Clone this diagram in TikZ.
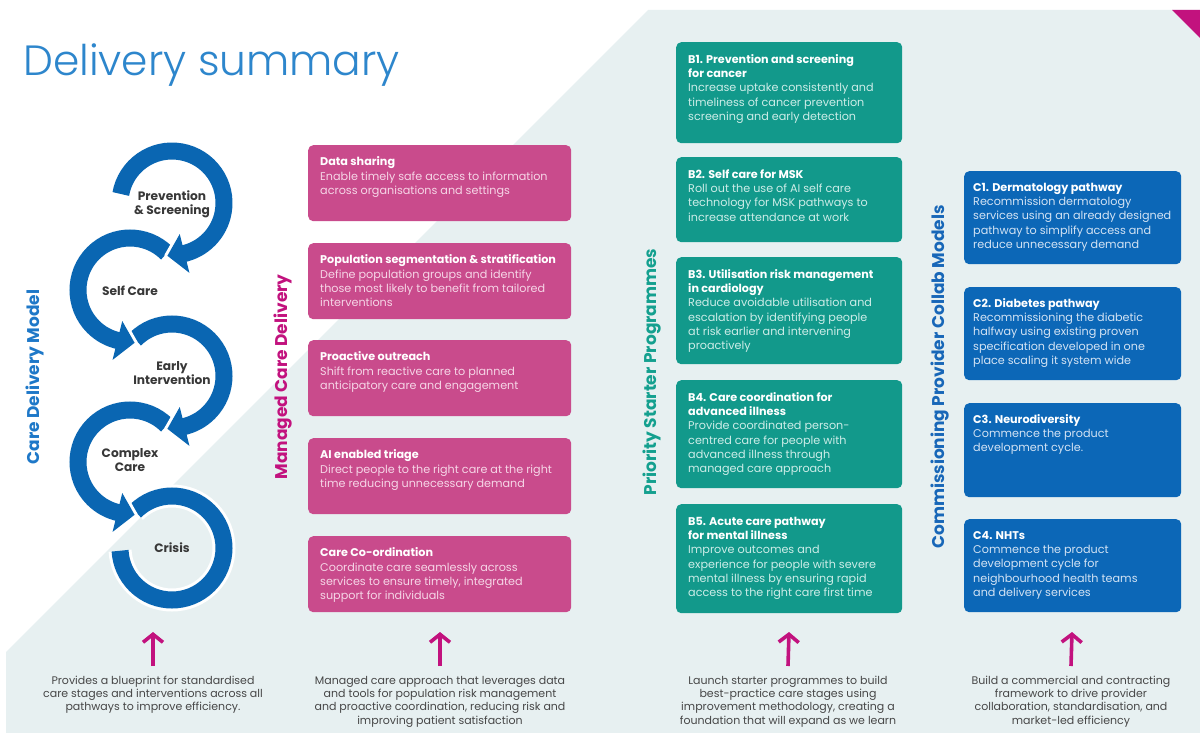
\documentclass[tikz,border=0pt]{standalone}
\usepackage{fontspec}
\setmainfont{Poppins}
\IfFontExistsTF{Poppins Light}{\newfontfamily\titlefont{Poppins Light}}{\newfontfamily\titlefont{Poppins}}
\usetikzlibrary{arrows.meta}

\definecolor{bgpale}{HTML}{E7F0F1}
\definecolor{titleblue}{HTML}{2D86CC}
\definecolor{spiral}{HTML}{0A66B2}
\definecolor{modelblue}{HTML}{1E78C8}
\definecolor{magenta}{HTML}{C2127E}
\definecolor{pinkbox}{HTML}{C94B8C}
\definecolor{pinktxt}{HTML}{F6D6E7}
\definecolor{tealbox}{HTML}{12998B}
\definecolor{tealtxt}{HTML}{CDEDE8}
\definecolor{teallabel}{HTML}{14A08F}
\definecolor{bluebox}{HTML}{0C67B7}
\definecolor{bluetxt}{HTML}{D3E3F4}
\definecolor{bluelabel}{HTML}{1867B8}
\definecolor{darktxt}{HTML}{383838}
\definecolor{greytxt}{HTML}{474747}

\newcommand{\boxhead}[1]{{\bfseries\color{white}#1}}

% one loop of the care-stage spiral:
% #1,#2 centre, #3 start angle, #4 ring end angle, #5 head base angle, #6 head tip angle
\newcommand{\careloop}[6]{%
  \begin{scope}[shift={(#1,#2)}]
    \draw[loophalo] (#3:52) arc[start angle=#3, end angle=#4, radius=52];
    \draw[headhalo] (#5:32) -- (#5:72) -- (#6:53) -- cycle;
    \draw[loopring] (#3:52) arc[start angle=#3, end angle=#4, radius=52];
    \fill[spiral] (#5:32) -- (#5:72) -- (#6:53) -- cycle;
  \end{scope}}

\tikzset{
  loopring/.style={draw=spiral, line width=17pt},
  loophalo/.style={draw=white, line width=23pt},
  headhalo/.style={draw=white, line width=6pt, line join=round},
  stagetext/.style={font=\fontsize{12.2}{14}\selectfont\bfseries, text=darktxt, align=center, inner sep=0},
  sidelabel/.style={rotate=90, font=\fontsize{17}{19}\selectfont\bfseries, inner sep=0},
  cardbox/.style={anchor=north west, rounded corners=5pt, inner sep=0, draw=none},
  pbox/.style={cardbox, fill=pinkbox, minimum width=263pt, minimum height=76pt},
  tbox/.style={cardbox, fill=tealbox, minimum width=226pt},
  cbox/.style={cardbox, fill=bluebox, minimum width=217pt},
  cardtext/.style={anchor=north west, inner sep=0, align=left, font=\fontsize{11.2}{14.3}\selectfont},
  foot/.style={anchor=north, inner sep=0, align=center, text=greytxt, font=\fontsize{11}{13.2}\selectfont},
  uparrow/.style={draw=magenta, line width=3.6pt, -{Straight Barb[length=8pt,width=20pt]}}
}

\begin{document}
\begin{tikzpicture}[x=1pt,y=1pt]
\useasboundingbox (0,0) rectangle (1200,-733);
\fill[white] (0,0) rectangle (1200,-733);

% pale backdrop with diagonal edge and the magenta corner
\fill[bgpale] (648,-10) -- (1200,-10) -- (1200,-733) -- (6,-733) -- (6,-652) -- cycle;
\fill[magenta] (1172,-10) -- (1200,-10) -- (1200,-38) -- cycle;

% title
\node[anchor=base west, inner sep=0, text=titleblue, font=\titlefont\fontsize{42.3}{46}\selectfont] (title) at (23,-76) {Delivery summary};

% care-stage spiral, drawn bottom-up so each upper loop sits on top
\begin{scope}[shift={(172,-548)}]
  \draw[loophalo] (135:52) arc[start angle=135, end angle=-177, radius=52];
  \draw[loopring] (135:52) arc[start angle=135, end angle=-177, radius=52];
\end{scope}
\careloop{130}{-462}{45}{258}{256}{275}
\careloop{172}{-376}{135}{-78}{-76}{-95}
\careloop{130}{-290}{45}{258}{256}{275}
\careloop{172}{-203}{170}{-78}{-76}{-95}

\node[stagetext] (s1) at (172,-204) {Prevention\\\& Screening};
\node[stagetext] (s2) at (130,-291) {Self Care};
\node[stagetext] (s3) at (172,-373) {Early\\Intervention};
\node[stagetext] (s4) at (130,-460) {Complex\\Care};
\node[stagetext] (s5) at (172,-548) {Crisis};

% column headings
\node[sidelabel, text=modelblue] (l1) at (35,-377) {Care Delivery Model};
\node[sidelabel, text=magenta] (l2) at (283,-377) {Managed Care Delivery};
\node[sidelabel, text=teallabel] (l3) at (652,-372) {Priority Starter Programmes};
\node[sidelabel, text=bluelabel] (l4) at (940,-377) {Commissioning Provider Collab Models};

% managed care delivery cards
\node[pbox] (p1) at (308,-145) {};
\node[pbox] (p2) at (308,-243) {};
\node[pbox] (p3) at (308,-340) {};
\node[pbox] (p4) at (308,-438) {};
\node[pbox] (p5) at (308,-536) {};
\node[cardtext, text=pinktxt] (p1t) at ([shift={(12,-10.5)}]p1.north west) {\strut\boxhead{Data sharing}\\Enable timely safe access to information\\across organisations and settings};
\node[cardtext, text=pinktxt] (p2t) at ([shift={(12,-10.5)}]p2.north west) {\strut\boxhead{Population segmentation \& stratification}\\Define population groups and identify\\those most likely to benefit from tailored\\interventions};
\node[cardtext, text=pinktxt] (p3t) at ([shift={(12,-10.5)}]p3.north west) {\strut\boxhead{Proactive outreach}\\Shift from reactive care to planned\\anticipatory care and engagement};
\node[cardtext, text=pinktxt] (p4t) at ([shift={(12,-10.5)}]p4.north west) {\strut\boxhead{AI enabled triage}\\Direct people to the right care at the right\\time reducing unnecessary demand};
\node[cardtext, text=pinktxt] (p5t) at ([shift={(12,-10.5)}]p5.north west) {\strut\boxhead{Care Co-ordination}\\Coordinate care seamlessly across\\services to ensure timely, integrated\\support for individuals};

% priority starter programme cards
\node[tbox, minimum height=101pt] (b1) at (676,-42) {};
\node[tbox, minimum height=85pt] (b2) at (676,-157) {};
\node[tbox, minimum height=107pt] (b3) at (676,-257) {};
\node[tbox, minimum height=108pt] (b4) at (676,-380) {};
\node[tbox, minimum height=109pt] (b5) at (676,-504) {};
\node[cardtext, text=tealtxt] (b1t) at ([shift={(12,-11)}]b1.north west) {\strut\boxhead{B1. Prevention and screening}\\\boxhead{for cancer}\\Increase uptake consistently and\\timeliness of cancer prevention\\screening and early detection};
\node[cardtext, text=tealtxt] (b2t) at ([shift={(12,-11)}]b2.north west) {\strut\boxhead{B2. Self care for MSK}\\Roll out the use of AI self care\\technology for MSK pathways to\\increase attendance at work};
\node[cardtext, text=tealtxt] (b3t) at ([shift={(12,-11)}]b3.north west) {\strut\boxhead{B3. Utilisation risk management}\\\boxhead{in cardiology}\\Reduce avoidable utilisation and\\escalation by identifying people\\at risk earlier and intervening\\proactively};
\node[cardtext, text=tealtxt] (b4t) at ([shift={(12,-11)}]b4.north west) {\strut\boxhead{B4. Care coordination for}\\\boxhead{advanced illness}\\Provide coordinated person-\\centred care for people with\\advanced illness through\\managed care approach};
\node[cardtext, text=tealtxt] (b5t) at ([shift={(12,-11)}]b5.north west) {\strut\boxhead{B5. Acute care pathway}\\\boxhead{for mental illness}\\Improve outcomes and\\experience for people with severe\\mental illness by ensuring rapid\\access to the right care first time};

% commissioning provider collaboration cards
\node[cbox, minimum height=93pt] (c1) at (964,-171) {};
\node[cbox, minimum height=93pt] (c2) at (964,-287) {};
\node[cbox, minimum height=94pt] (c3) at (964,-403) {};
\node[cbox, minimum height=93pt] (c4) at (964,-519) {};
\node[cardtext, text=bluetxt] (c1t) at ([shift={(9,-10)}]c1.north west) {\strut\boxhead{C1. Dermatology pathway}\\Recommission dermatology\\services using an already designed\\pathway to simplify access and\\reduce unnecessary demand};
\node[cardtext, text=bluetxt] (c2t) at ([shift={(9,-10)}]c2.north west) {\strut\boxhead{C2. Diabetes pathway}\\Recommissioning the diabetic\\halfway using existing proven\\specification developed in one\\place scaling it system wide};
\node[cardtext, text=bluetxt] (c3t) at ([shift={(9,-10)}]c3.north west) {\strut\boxhead{C3. Neurodiversity}\\Commence the product\\development cycle.};
\node[cardtext, text=bluetxt] (c4t) at ([shift={(9,-10)}]c4.north west) {\strut\boxhead{C4. NHTs}\\Commence the product\\development cycle for\\neighbourhood health teams\\and delivery services};

% footnotes with their arrows
\node[foot] (q1) at (153,-675) {\strut Provides a blueprint for standardised\\care stages and interventions across all\\pathways to improve efficiency.};
\node[foot] (q2) at (440,-675) {\strut Managed care approach that leverages data\\and tools for population risk management\\and proactive coordination, reducing risk and\\improving patient satisfaction};
\node[foot] (q3) at (788,-675) {\strut Launch starter programmes to build\\best-practice care stages using\\improvement methodology, creating a\\foundation that will expand as we learn};
\node[foot] (q4) at (1071,-675) {\strut Build a commercial and contracting\\framework to drive provider\\collaboration, standardisation, and\\market-led efficiency};

\coordinate (a1) at (153,-632);
\coordinate (a2) at (440,-632);
\coordinate (a3) at (789,-632);
\coordinate (a4) at (1072,-632);
\draw[uparrow] ([yshift=9pt]q1.north) -- (a1);
\draw[uparrow] ([yshift=9pt]q2.north) -- (a2);
\draw[uparrow] ([yshift=9pt]q3.north) -- (a3);
\draw[uparrow] ([yshift=9pt]q4.north) -- (a4);
\end{tikzpicture}
\end{document}
